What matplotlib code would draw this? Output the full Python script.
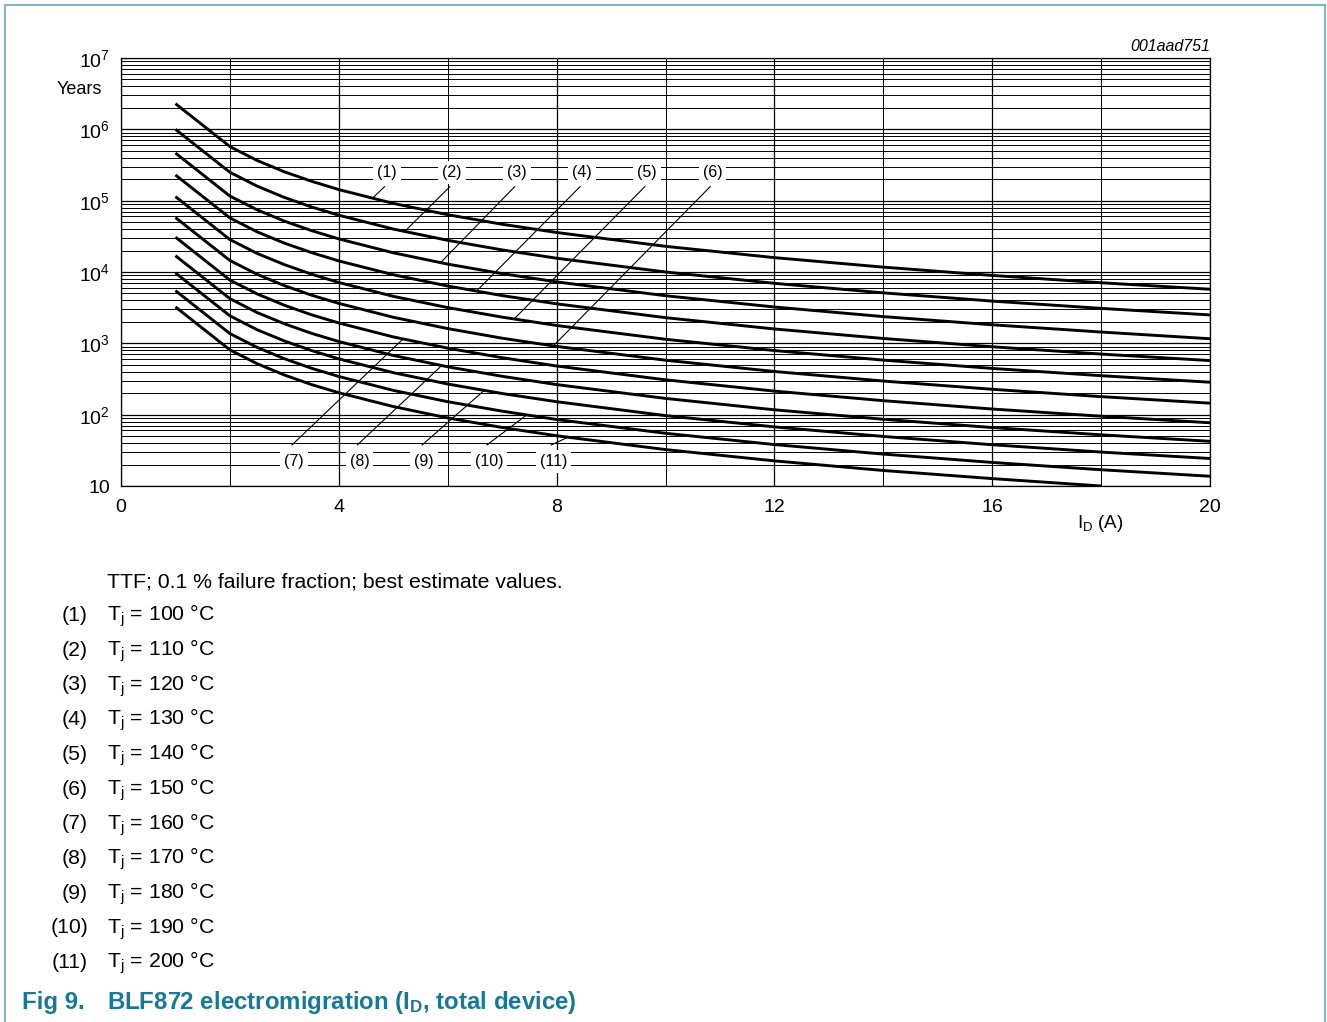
import matplotlib
matplotlib.use('Agg')
import matplotlib.pyplot as plt
import numpy as np
from matplotlib.ticker import FixedLocator, NullFormatter, FuncFormatter
from matplotlib.patches import Rectangle

plt.rcParams['font.family'] = ['Liberation Sans', 'DejaVu Sans']
plt.rcParams['mathtext.fontset'] = 'custom'
plt.rcParams['mathtext.rm'] = 'Liberation Sans'
plt.rcParams['mathtext.it'] = 'Liberation Sans:italic'
plt.rcParams['mathtext.bf'] = 'Liberation Sans:bold'

# ---------------- data ----------------
current_A = [1, 2, 2.5, 3, 3.5, 4, 5, 6, 7, 8, 10, 12, 14, 16, 18, 20]

ttf_1 = [2.29e6, 5.73e5, 3.66e5, 2.54e5, 1.87e5, 1.43e5, 9.16e4, 6.36e4, 4.67e4, 3.58e4, 2.29e4, 1.59e4, 1.17e4, 8.95e3, 7.07e3, 5.73e3]
ttf_2 = [1.0e6, 2.5e5, 1.6e5, 1.11e5, 8.16e4, 6.25e4, 4.0e4, 2.78e4, 2.04e4, 1.56e4, 1.0e4, 6.94e3, 5.10e3, 3.91e3, 3.09e3, 2.5e3]
ttf_3 = [4.65e5, 1.16e5, 7.44e4, 5.17e4, 3.80e4, 2.91e4, 1.86e4, 1.29e4, 9.49e3, 7.27e3, 4.65e3, 3.23e3, 2.37e3, 1.82e3, 1.44e3, 1.16e3]
ttf_4 = [2.29e5, 5.73e4, 3.66e4, 2.54e4, 1.87e4, 1.43e4, 9.16e3, 6.36e3, 4.67e3, 3.58e3, 2.29e3, 1.59e3, 1.17e3, 895, 707, 573]
ttf_5 = [1.14e5, 2.85e4, 1.82e4, 1.27e4, 9.31e3, 7.13e3, 4.56e3, 3.17e3, 2.33e3, 1.78e3, 1.14e3, 792, 582, 445, 352, 285]
ttf_6 = [5.8e4, 1.45e4, 9.28e3, 6.44e3, 4.73e3, 3.63e3, 2.32e3, 1.61e3, 1.18e3, 906, 580, 403, 296, 227, 179, 145]
ttf_7 = [3.08e4, 7.7e3, 4.93e3, 3.42e3, 2.51e3, 1.93e3, 1.23e3, 856, 629, 481, 308, 214, 157, 120, 95.1, 77]
ttf_8 = [1.69e4, 4.23e3, 2.70e3, 1.88e3, 1.38e3, 1.06e3, 676, 469, 345, 264, 169, 117, 86.2, 66.0, 52.2, 42.3]
ttf_9 = [9.7e3, 2.43e3, 1.55e3, 1.08e3, 792, 606, 388, 269, 198, 152, 97, 67.4, 49.5, 37.9, 29.9, 24.3]
ttf_10 = [5.48e3, 1.37e3, 877, 609, 447, 343, 219, 152, 112, 85.6, 54.8, 38.1, 28.0, 21.4, 16.9, 13.7]
ttf_11 = [3.24e3, 810, 518, 360, 264, 203, 130, 90, 66.1, 50.6, 32.4, 22.5, 16.5, 12.7, 10.0]

curves = [ttf_1, ttf_2, ttf_3, ttf_4, ttf_5, ttf_6, ttf_7, ttf_8, ttf_9, ttf_10, ttf_11]
curve_labels = ['(1)', '(2)', '(3)', '(4)', '(5)', '(6)', '(7)', '(8)', '(9)', '(10)', '(11)']
tj_values = [100, 110, 120, 130, 140, 150, 160, 170, 180, 190, 200]

# label placement (x of label, x where leader meets curve)
label_x = [4.88, 6.08, 7.27, 8.47, 9.66, 10.86, 3.18, 4.38, 5.57, 6.76, 7.94]
leader_x = [4.62, 5.21, 5.87, 6.53, 7.22, 7.94, 5.18, 5.89, 6.67, 7.45, 8.21]

x_ticks = [0, 4, 8, 12, 16, 20]
y_decades = [10, 1e2, 1e3, 1e4, 1e5, 1e6, 1e7]

# ---------------- figure ----------------
W, H = 1327, 1022
fig = plt.figure(figsize=(W / 100, H / 100), dpi=100)
ax = fig.add_axes([121 / W, 1 - 486 / H, (1210 - 121) / W, (486 - 58) / H])
ax.set_yscale('log')
ax.set_xlim(0, 20)
ax.set_ylim(10, 1e7)

ax.xaxis.set_major_locator(FixedLocator(x_ticks))
ax.xaxis.set_minor_locator(FixedLocator([2, 6, 10, 14, 18]))
ax.yaxis.set_major_locator(FixedLocator(y_decades))
minor_y = [m * d for d in y_decades[:-1] for m in range(2, 10)]
ax.yaxis.set_minor_locator(FixedLocator(minor_y))
ax.yaxis.set_minor_formatter(NullFormatter())
ax.xaxis.set_minor_formatter(NullFormatter())


def yfmt(v, pos):
    e = int(round(np.log10(v)))
    if e == 1:
        return '10'
    return r'$10^{%d}$' % e


ax.yaxis.set_major_formatter(FuncFormatter(yfmt))
ax.tick_params(which='both', length=0, labelsize=14, colors='black')
ax.tick_params(axis='y', pad=8)
ax.tick_params(axis='x', pad=9)

ax.grid(which='major', color='black', lw=0.9)
ax.grid(which='minor', color='black', lw=0.7)
ax.set_axisbelow(True)
for s in ax.spines.values():
    s.set_linewidth(0.9)
    s.set_color('black')

for vals in curves:
    ax.plot(current_A[:len(vals)], vals, color='black', lw=2.1, solid_capstyle='butt', zorder=3)

# curve labels with leader lines
for i, (lab, lx, ax_x) in enumerate(zip(curve_labels, label_x, leader_x)):
    vals = curves[i]
    xs = current_A[:len(vals)]
    ya = np.exp(np.interp(ax_x, xs, np.log(vals)))
    if i < 6:
        ly, lstart = 2.52e5, 1.57e5
    else:
        ly, lstart = 22.4, 37.6
    ax.plot([lx - 0.04, ax_x], [lstart, ya], color='black', lw=0.8, zorder=4)
    ax.text(lx, ly, lab, ha='center', va='center', fontsize=11.5, zorder=5,
            bbox=dict(boxstyle='square,pad=0.25', facecolor='white', edgecolor='none'))

# axis annotation
fig.text(79 / W, 1 - 89 / H, 'Years', ha='center', va='center', fontsize=13)
fig.text(1100 / W, 1 - 524 / H, r'I$_\mathrm{D}$ (A)', ha='center', va='center', fontsize=13.5)
fig.text(1210 / W, 1 - 46 / H, '001aad751', ha='right', va='center', fontsize=11.5, style='italic')

# caption
fs_cap = 15.3
fig.text(107 / W, 1 - 587 / H, 'TTF; 0.1 % failure fraction; best estimate values.',
         ha='left', va='baseline', fontsize=fs_cap)
row_y0, row_dy = 621, 34.7
for i, (lab, tj) in enumerate(zip(curve_labels, tj_values)):
    yy = 1 - (row_y0 + i * row_dy) / H
    fig.text(88 / W, yy, lab, ha='right', va='baseline', fontsize=fs_cap)
    fig.text(107 / W, yy, r'T$_\mathrm{j}$ = %d °C' % tj, ha='left', va='baseline', fontsize=fs_cap)

title_color = '#17799A'
fig.text(22 / W, 1 - 1009 / H, 'Fig 9.', ha='left', va='baseline', fontsize=17.3,
         fontweight='bold', color=title_color)
fig.text(107 / W, 1 - 1009 / H, r'BLF872 electromigration (I$_\mathbf{D}$, total device)',
         ha='left', va='baseline', fontsize=17.3, fontweight='bold', color=title_color)

# frame
fig.patches.append(Rectangle((5 / W, -0.01), (1325 - 5) / W, 1.01 - 5 / H,
                             transform=fig.transFigure, fill=False,
                             edgecolor='#86B4C4', lw=1.5))

fig.savefig('out.png', dpi=100)
